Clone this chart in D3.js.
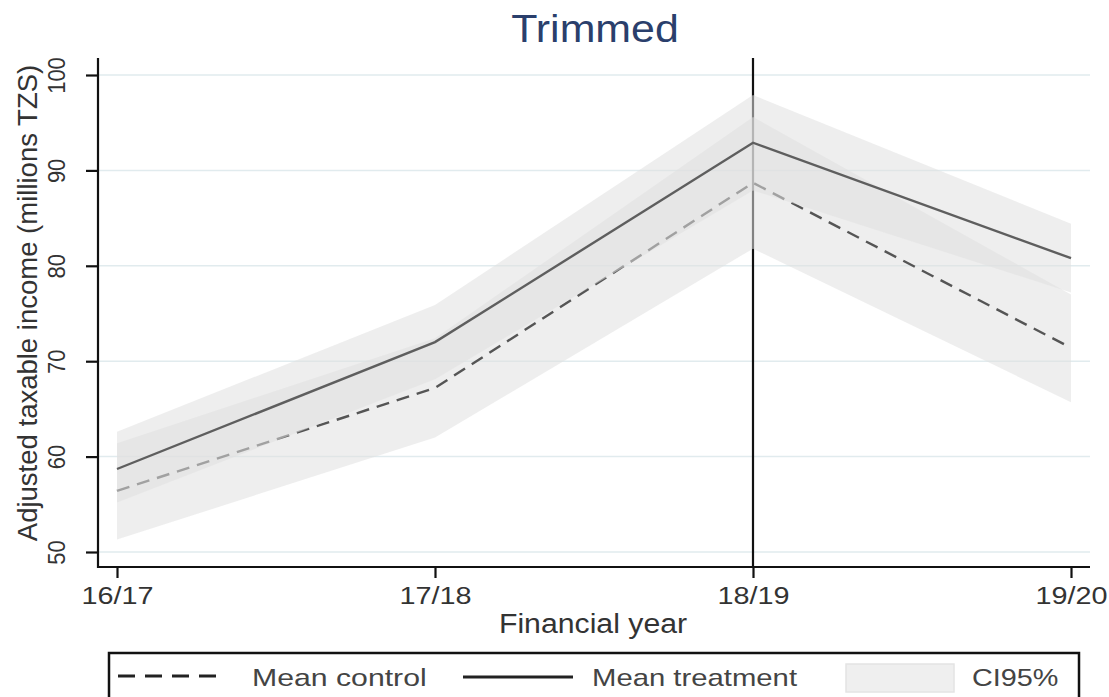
<!DOCTYPE html>
<html>
<head>
<meta charset="utf-8">
<script src="https://cdn.jsdelivr.net/npm/d3@7"></script>
<style>
  html, body { margin: 0; padding: 0; background: #fff; }
  svg { display: block; }
  text { font-family: "Liberation Sans", Arial, Helvetica, sans-serif; }
</style>
</head>
<body>
<svg id="chart" width="1109" height="697"></svg>
<script>
// Financial years on the x axis
const years = ["16/17", "17/18", "18/19", "19/20"];

// Mean adjusted taxable income (millions TZS) with 95% confidence bounds
const controlMean = [56.4, 67.2, 88.7, 71.4];
const controlLow  = [51.3, 62.0, 81.8, 65.7];
const controlHigh = [61.4, 72.4, 95.6, 77.0];

const treatmentMean = [58.7, 72.0, 92.9, 80.8];
const treatmentLow  = [55.2, 68.1, 87.9, 77.2];
const treatmentHigh = [62.6, 75.9, 97.9, 84.4];

const yTicks = [50, 60, 70, 80, 90, 100];
const eventYear = "18/19";

const legendItems = ["Mean control", "Mean treatment", "CI95%"];

const svg = d3.select("#chart");

const plot = { left: 98, right: 1090, top: 58, bottom: 567 };

const x = d3.scalePoint().domain(years).range([117, 1071]);
const y = d3.scaleLinear().domain([50, 100]).range([552, 75]);

// light horizontal grid
svg.append("g")
  .selectAll("line")
  .data(yTicks)
  .join("line")
  .attr("x1", plot.left).attr("x2", plot.right)
  .attr("y1", d => y(d)).attr("y2", d => y(d))
  .attr("stroke", "#e1ebee")
  .attr("stroke-width", 1.5);

// reference line at the treatment year
svg.append("line")
  .attr("x1", x(eventYear)).attr("x2", x(eventYear))
  .attr("y1", plot.top).attr("y2", plot.bottom)
  .attr("stroke", "#111").attr("stroke-width", 2.2);

const rows = years.map((yr, i) => ({
  yr,
  cm: controlMean[i], cl: controlLow[i], ch: controlHigh[i],
  tm: treatmentMean[i], tl: treatmentLow[i], th: treatmentHigh[i]
}));

const bandFill = "#e0e0e0";
const bandOpacity = 0.55;

// control CI band and mean
svg.append("path")
  .datum(rows)
  .attr("d", d3.area().x(d => x(d.yr)).y0(d => y(d.cl)).y1(d => y(d.ch)))
  .attr("fill", bandFill).attr("fill-opacity", bandOpacity);

svg.append("path")
  .datum(rows)
  .attr("d", d3.line().x(d => x(d.yr)).y(d => y(d.cm)))
  .attr("fill", "none")
  .attr("stroke", "#555")
  .attr("stroke-width", 2.4)
  .attr("stroke-dasharray", "13,8");

// treatment CI band and mean
svg.append("path")
  .datum(rows)
  .attr("d", d3.area().x(d => x(d.yr)).y0(d => y(d.tl)).y1(d => y(d.th)))
  .attr("fill", bandFill).attr("fill-opacity", bandOpacity);

svg.append("path")
  .datum(rows)
  .attr("d", d3.line().x(d => x(d.yr)).y(d => y(d.tm)))
  .attr("fill", "none")
  .attr("stroke", "#5e5e5e")
  .attr("stroke-width", 2.4);

// axes
const xAxis = svg.append("g")
  .attr("transform", `translate(0,${plot.bottom})`)
  .call(d3.axisBottom(x).tickSize(11).tickPadding(8));
xAxis.select(".domain").remove();
xAxis.selectAll(".tick line").attr("stroke", "#111").attr("stroke-width", 2.2);
xAxis.selectAll(".tick text")
  .attr("fill", "#333")
  .attr("font-size", 24)
  .attr("dy", 0)
  .attr("y", 37)
  .attr("transform", "scale(1.2,1)");

const yAxis = svg.append("g")
  .attr("transform", `translate(${plot.left},0)`)
  .call(d3.axisLeft(y).tickValues(yTicks).tickSize(12).tickFormat(d3.format("d")));
yAxis.select(".domain").remove();
yAxis.selectAll(".tick line").attr("stroke", "#111").attr("stroke-width", 2.2);
yAxis.selectAll(".tick text")
  .attr("fill", "#333")
  .attr("font-size", 22)
  .attr("x", 0).attr("dy", 0)
  .attr("text-anchor", "middle")
  .attr("transform", "translate(-33,0) scale(1.08,1) rotate(-90)");

svg.append("line")
  .attr("x1", plot.left).attr("x2", plot.left)
  .attr("y1", plot.top).attr("y2", plot.bottom + 1)
  .attr("stroke", "#111").attr("stroke-width", 2.2);
svg.append("line")
  .attr("x1", plot.left - 1).attr("x2", plot.right)
  .attr("y1", plot.bottom).attr("y2", plot.bottom)
  .attr("stroke", "#111").attr("stroke-width", 2.2);

// titles
svg.append("text")
  .attr("transform", "translate(595,42) scale(1.1,1)")
  .attr("text-anchor", "middle")
  .attr("font-size", 39)
  .attr("fill", "#2a3f6c")
  .text("Trimmed");

svg.append("text")
  .attr("transform", "translate(593,633) scale(1.12,1)")
  .attr("text-anchor", "middle")
  .attr("font-size", 27)
  .attr("fill", "#333")
  .text("Financial year");

svg.append("text")
  .attr("transform", "translate(37,303) rotate(-90)")
  .attr("text-anchor", "middle")
  .attr("font-size", 27.5)
  .attr("fill", "#333")
  .text("Adjusted taxable income (millions TZS)");

// legend
const legend = svg.append("g");
legend.append("rect")
  .attr("x", 109).attr("y", 653)
  .attr("width", 970).attr("height", 70)
  .attr("fill", "#fff")
  .attr("stroke", "#111").attr("stroke-width", 2.5);

legend.append("line")
  .attr("x1", 118).attr("x2", 216)
  .attr("y1", 676).attr("y2", 676)
  .attr("stroke", "#222").attr("stroke-width", 3)
  .attr("stroke-dasharray", "17,10");

legend.append("line")
  .attr("x1", 463).attr("x2", 573)
  .attr("y1", 677).attr("y2", 677)
  .attr("stroke", "#222").attr("stroke-width", 3);

legend.append("rect")
  .attr("x", 846).attr("y", 664)
  .attr("width", 108).attr("height", 28)
  .attr("fill", "#efefef")
  .attr("stroke", "#e4e4e4").attr("stroke-width", 1.5);

const legendPos = [252, 592, 972];
const legendScale = [1.26, 1.22, 1.2];
legend.selectAll("text.item")
  .data(legendItems)
  .join("text")
  .attr("class", "item")
  .attr("transform", (d, i) => `translate(${legendPos[i]},686) scale(${legendScale[i]},1)`)
  .attr("font-size", 24)
  .attr("fill", "#444")
  .text(d => d);
</script>
</body>
</html>
